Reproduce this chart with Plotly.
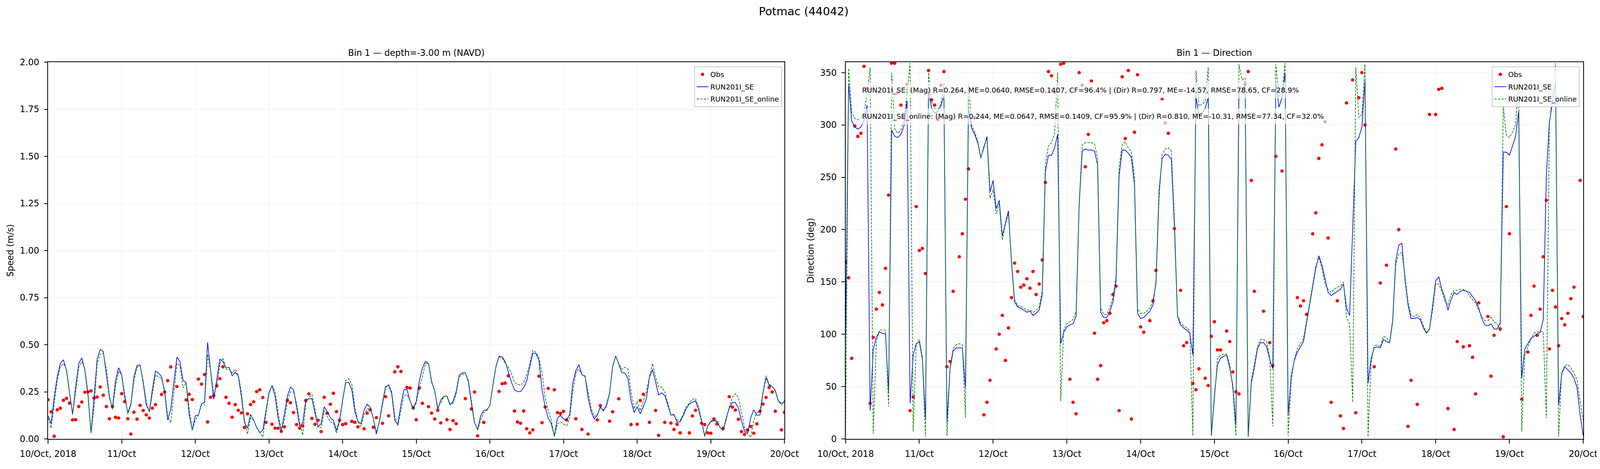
import pandas as pd
import plotly.graph_objects as go

# hourly time stamps, 10/Oct 00:00 .. 20/Oct 00:00
times = pd.date_range('2018-10-10 00:00', periods=241, freq='h')

tick_vals = pd.date_range('2018-10-10', '2018-10-20', freq='D')
tick_text = ['10/Oct, 2018', '11/Oct', '12/Oct', '13/Oct', '14/Oct', '15/Oct',
             '16/Oct', '17/Oct', '18/Oct', '19/Oct', '20/Oct']

# ---- speed (m/s) ----
speed_obs = [
    0.208, 0.144, 0.014, 0.154, 0.163, 0.205, 0.215, 0.19, 0.101, 0.102, 0.172, 0.196,
    0.248, 0.25, 0.255, 0.217, 0.222, 0.276, 0.232, 0.172, 0.107, 0.172, 0.115, 0.111,
    0.24, 0.198, 0.107, 0.026, 0.142, 0.105, 0.178, 0.151, 0.128, 0.111, 0.163, 0.182,
    None, 0.236, 0.249, 0.309, 0.382, None, 0.278, None, None, 0.207, 0.237, 0.209,
    None, 0.318, 0.291, 0.342, 0.09, 0.221, 0.23, 0.282, 0.32, 0.383, 0.221, 0.189,
    0.115, 0.182, 0.152, 0.138, 0.061, 0.133, 0.182, 0.197, 0.251, 0.261, 0.22, 0.088,
    None, 0.078, 0.057, 0.056, 0.04, 0.064, 0.204, 0.192, 0.14, 0.076, 0.057, 0.069,
    0.204, 0.239, 0.109, 0.078, 0.099, 0.039, 0.221, 0.137, 0.184, 0.242, 0.145, 0.099,
    0.076, 0.081, None, 0.093, 0.088, 0.064, None, 0.054, 0.137, 0.154, 0.062, 0.113,
    None, 0.083, 0.224, 0.123, None, 0.356, 0.383, 0.358, None, 0.273, 0.27, 0.164,
    0.102, 0.27, 0.189, None, 0.171, 0.137, 0.106, 0.152, 0.085, None, 0.102, 0.05,
    0.097, 0.081, None, None, 0.214, None, 0.159, 0.249, 0.016, None, 0.088, None,
    None, None, None, 0.252, 0.293, 0.296, 0.335, None, 0.148, 0.09, 0.083, 0.148,
    0.054, 0.032, 0.048, None, 0.333, 0.086, 0.169, 0.268, None, 0.261, 0.14, 0.135,
    0.146, 0.101, None, None, 0.107, None, 0.05, None, 0.026, None, None, 0.101,
    0.177, None, None, 0.094, 0.144, None, 0.213, None, None, None, 0.076, None,
    0.078, 0.204, 0.237, None, 0.088, None, 0.151, 0.019, None, 0.088, None, 0.084,
    0.05, 0.077, 0.032, None, None, 0.032, 0.122, 0.152, None, 0.083, 0.076, 0.032,
    0.03, 0.106, 0.079, None, 0.056, None, 0.224, 0.169, 0.153, 0.104, 0.039, 0.024,
    0.047, 0.066, 0.03, 0.08, 0.147, 0.185, 0.22, 0.273, 0.249, 0.147, None, 0.048,
    0.141,
]

speed_se = [
    0.123, 0.081, 0.22, 0.33, 0.40, 0.42, 0.365, 0.247, 0.13, 0.275, 0.40, 0.43,
    0.365, 0.233, 0.033, 0.22, 0.423, 0.474, 0.465, 0.344, 0.22, 0.164, 0.31, 0.378,
    0.34, 0.22, 0.14, 0.185, 0.33, 0.39, 0.392, 0.30, 0.18, 0.147, 0.26, 0.36,
    0.35, 0.33, 0.25, 0.10, 0.157, 0.30, 0.434, 0.41, 0.31, 0.30, 0.13, 0.047,
    0.123, 0.126, 0.185, 0.195, 0.513, 0.358, 0.21, 0.316, 0.423, 0.41, 0.378, 0.38,
    0.334, 0.354, 0.334, 0.227, 0.088, 0.057, 0.13, 0.099, 0.061, 0.033, 0.047, 0.147,
    0.247, 0.282, 0.227, 0.109, 0.04, 0.13, 0.227, 0.275, 0.261, 0.171, 0.068, 0.085,
    0.206, 0.213, 0.213, 0.137, 0.064, 0.081, 0.171, 0.144, 0.113, 0.099, 0.044, 0.099,
    0.206, 0.299, 0.30, 0.261, 0.144, 0.092, 0.081, 0.154, 0.185, 0.168, 0.109, 0.026,
    0.095, 0.192, 0.278, 0.285, 0.24, 0.099, 0.075, 0.182, 0.261, 0.261, 0.199, 0.164,
    0.199, 0.309, 0.375, 0.412, 0.40, 0.302, 0.258, 0.157, 0.206, 0.227, 0.227, 0.18,
    0.199, 0.251, 0.337, 0.351, 0.351, 0.302, 0.185, 0.085, 0.05, 0.123, 0.151, 0.154,
    0.178, 0.289, 0.385, 0.438, 0.436, 0.41, 0.358, 0.302, 0.261, 0.251, 0.251, 0.271,
    0.309, 0.385, 0.456, 0.453, 0.416, 0.261, 0.171, 0.109, 0.081, 0.016, 0.109, 0.126,
    0.106, 0.099, 0.13, 0.296, 0.361, 0.394, 0.34, 0.334, 0.22, 0.144, 0.106, 0.126,
    0.171, 0.147, 0.182, 0.243, 0.385, 0.44, 0.396, 0.352, 0.35, 0.32, 0.202, 0.14,
    0.171, 0.133, 0.171, 0.213, 0.327, 0.368, 0.302, 0.233, 0.244, 0.23, 0.178, 0.126,
    0.13, 0.088, 0.092, 0.123, 0.161, 0.185, 0.195, 0.202, 0.157, 0.092, 0.016, 0.068,
    0.092, 0.097, 0.092, 0.061, 0.047, 0.109, 0.164, 0.193, 0.193, 0.164, 0.095, 0.04,
    0.03, 0.113, 0.154, 0.126, 0.126, 0.244, 0.325, 0.285, 0.278, 0.258, 0.202, 0.189,
    0.195,
]

speed_online = [
    0.11, 0.057, 0.19, 0.31, 0.385, 0.40, 0.37, 0.25, 0.13, 0.25, 0.38, 0.41,
    0.37, 0.25, 0.03, 0.17, 0.40, 0.45, 0.455, 0.37, 0.23, 0.155, 0.28, 0.36,
    0.34, 0.24, 0.13, 0.18, 0.31, 0.38, 0.39, 0.31, 0.2, 0.14, 0.24, 0.34,
    0.33, 0.32, 0.26, 0.12, 0.085, 0.25, 0.40, 0.39, 0.27, 0.30, 0.16, 0.045,
    0.10, 0.125, 0.18, 0.18, 0.45, 0.36, 0.24, 0.28, 0.40, 0.43, 0.37, 0.37,
    0.35, 0.37, 0.34, 0.25, 0.10, 0.025, 0.11, 0.10, 0.06, 0.035, 0.01, 0.13,
    0.24, 0.285, 0.25, 0.14, 0.045, 0.10, 0.20, 0.25, 0.25, 0.19, 0.09, 0.02,
    0.19, 0.22, 0.235, 0.16, 0.06, 0.06, 0.15, 0.12, 0.09, 0.085, 0.03, 0.09,
    0.20, 0.31, 0.32, 0.29, 0.17, 0.09, 0.065, 0.13, 0.16, 0.16, 0.11, 0.035,
    0.09, 0.18, 0.27, 0.29, 0.25, 0.12, 0.07, 0.15, 0.23, 0.235, 0.2, 0.155,
    0.19, 0.27, 0.33, 0.40, 0.40, 0.31, 0.25, 0.17, 0.19, 0.225, 0.23, 0.185,
    0.19, 0.24, 0.33, 0.34, 0.35, 0.31, 0.2, 0.09, 0.045, 0.10, 0.14, 0.15,
    0.18, 0.29, 0.39, 0.435, 0.43, 0.40, 0.38, 0.35, 0.30, 0.29, 0.285, 0.30,
    0.34, 0.40, 0.47, 0.46, 0.43, 0.35, 0.22, 0.15, 0.10, 0.012, 0.08, 0.09,
    0.08, 0.07, 0.11, 0.25, 0.35, 0.37, 0.34, 0.33, 0.25, 0.16, 0.12, 0.13,
    0.165, 0.155, 0.17, 0.24, 0.38, 0.44, 0.40, 0.37, 0.38, 0.37, 0.25, 0.16,
    0.20, 0.15, 0.20, 0.25, 0.33, 0.40, 0.33, 0.275, 0.275, 0.25, 0.19, 0.13,
    0.125, 0.10, 0.10, 0.13, 0.17, 0.19, 0.21, 0.215, 0.17, 0.10, 0.012, 0.07,
    0.095, 0.10, 0.10, 0.06, 0.045, 0.10, 0.17, 0.22, 0.24, 0.22, 0.14, 0.06,
    0.025, 0.008, 0.10, 0.14, 0.145, 0.25, 0.335, 0.29, 0.28, 0.255, 0.2, 0.18,
    0.205,
]

# ---- direction (deg) ----
dir_obs = [
    169, 154, 77, 299, 289, 292, 356, 335, 34, 97, 124, 140,
    128, 163, 233, 359, 359, 331, 319, 307, 339, 27, 40, 222,
    180, 182, 158, 352, 324, 319, 305, 338, 351, 69, 74, 141,
    None, 174, 196, 229, 258, None, 307, None, None, 23, 35, 56,
    None, 86, 100, 118, 75, 106, 135, 168, 160, 145, 147, 153,
    144, 160, 138, 148, 171, 245, 351, 347, 331, None, 358, 359,
    None, 57, 35, 24, 350, 338, 260, 291, 342, 101, 57, 70,
    111, 113, 120, 138, 146, 27, 346, 287, 352, 19, 293, 348,
    107, 102, None, 113, 132, 161, None, 325, 302, 292, None, 201,
    None, 142, 89, 92, None, 53, 47, 67, None, 58, 51, 98,
    112, 85, 85, None, 103, 93, 64, 45, 43, None, 339, 351,
    247, 141, None, None, 122, None, 92, 70, 270, None, 256, None,
    None, None, None, 135, 127, 132, 119, None, 196, 216, 268, 281,
    303, 192, 35, None, 132, 22, 10, 321, None, 343, 25, 326,
    350, 300, None, None, 69, None, 149, None, 166, None, None, 277,
    200, None, None, 12, 56, None, 33, None, None, None, 310, None,
    310, 334, 335, None, 29, None, 9, 93, None, 88, None, 89,
    78, 43, 130, None, None, 117, 60, 99, None, 105, 2, 222,
    196, None, None, None, 38, None, 83, 118, 146, 99, 124, 174,
    228, 86, 142, 126, 89, 115, 109, 120, 134, 145, None, 247,
    117,
]

dir_se = [
    100, 339, 304, 298, 296, 298, 304, 319, 27, 85, 97, 102,
    101, 100, 45, 295, 289, 288, 291, 299, 323, 34, 80, 91,
    93, 76, 19, 332, 316, 311, 313, 318, 328, 17, 67, 84,
    87, 87, 87, 49, 316, 297, 291, 283, 269, 278, 289, 236,
    247, 220, 228, 194, 206, 218, 168, 131, 126, 125, 123, 121,
    122, 118, 120, 123, 138, 255, 271, 271, 278, 291, 91, 102,
    107, 109, 110, 117, 223, 275, 277, 276, 276, 275, 262, 121,
    116, 116, 122, 131, 151, 251, 276, 276, 273, 269, 243, 120,
    115, 116, 119, 122, 128, 150, 237, 268, 272, 271, 267, 203,
    117, 109, 106, 104, 101, 80, 327, 309, 311, 316, 326, 3,
    41, 71, 77, 79, 80, 68, 51, 13, 331, 332, 338, 2,
    53, 68, 86, 92, 92, 88, 76, 67, 341, 317, 326, 350,
    23, 60, 75, 83, 88, 93, 111, 128, 146, 163, 175, 166,
    153, 140, 137, 139, 141, 143, 148, 125, 118, 203, 284, 288,
    298, 342, 53, 77, 87, 88, 87, 95, 93, 92, 113, 170,
    185, 187, 153, 128, 115, 115, 116, 114, 106, 101, 105, 127,
    151, 155, 143, 135, 123, 133, 140, 138, 141, 142, 141, 140,
    136, 132, 125, 115, 109, 108, 110, 105, 105, 111, 274, 274,
    271, 280, 289, 313, 58, 86, 91, 96, 98, 100, 102, 114,
    251, 303, 321, 341, 32, 62, 69, 66, 63, 58, 49, 23,
    3,
]

dir_online = [
    5, 354, 312, 306, 305, 306, 312, 330, 355, 5, 92, 104,
    104, 104, 31, 350, 296, 292, 295, 305, 330, 359, 7, 90,
    95, 78, 2, 350, 322, 316, 315, 320, 340, 3, 69, 86,
    90, 91, 90, 20, 340, 300, 293, 285, 268, 280, 287, 230,
    238, 215, 225, 190, 205, 215, 170, 133, 127, 127, 125, 123,
    123, 121, 123, 126, 142, 262, 280, 283, 292, 350, 36, 104,
    110, 112, 114, 122, 225, 281, 283, 283, 283, 282, 268, 125,
    119, 119, 126, 135, 155, 260, 281, 284, 278, 274, 250, 124,
    120, 120, 122, 125, 132, 148, 230, 272, 277, 278, 275, 210,
    118, 111, 108, 106, 103, 3, 352, 318, 320, 322, 355, 3,
    38, 76, 80, 81, 81, 71, 48, 3, 358, 343, 345, 2,
    56, 71, 88, 95, 95, 93, 78, 12, 358, 327, 331, 359,
    3, 56, 76, 86, 91, 96, 113, 130, 148, 165, 173, 163,
    148, 143, 140, 143, 145, 146, 150, 116, 110, 35, 355, 307,
    310, 358, 2, 73, 89, 90, 88, 98, 97, 91, 111, 166,
    177, 178, 156, 131, 118, 117, 119, 116, 108, 102, 105, 123,
    148, 148, 141, 131, 128, 138, 142, 142, 143, 143, 141, 137,
    133, 130, 123, 117, 113, 113, 116, 112, 110, 103, 318, 290,
    288, 293, 300, 340, 7, 80, 88, 95, 101, 102, 103, 102,
    20, 300, 330, 359, 2, 63, 70, 71, 68, 63, 56, 36,
    18,
]

stats_se = ('RUN201I_SE: (Mag) R=0.264, ME=0.0640, RMSE=0.1407, CF=96.4% | '
            '(Dir) R=0.797, ME=-14.57, RMSE=78.65, CF=28.9%')
stats_online = ('RUN201I_SE_online: (Mag) R=0.244, ME=0.0647, RMSE=0.1409, CF=95.9% | '
                '(Dir) R=0.810, ME=-10.31, RMSE=77.34, CF=32.0%')

FONT = 'DejaVu Sans'

# The browser shows the page at ~1.215 device px per css px and the photo is
# 5000 device px wide by ~1200 css px tall, so horizontal sizes are divided by
# 1.215 while vertical ones stay as in the reference (both minus the 8px margin).
D = 1.215


def hx(v):
    return v / D


def fx(v):
    return v / D - 8


def fy(v):
    return v - 8


fig = go.Figure()


def add_panel(obs, se, online, xa, ya, legend):
    fig.add_trace(go.Scatter(
        x=times[:len(obs)], y=obs, mode='markers', name='Obs', legendgroup='a',
        marker=dict(color='red', size=hx(10.5)), xaxis=xa, yaxis=ya, legend=legend))
    fig.add_trace(go.Scatter(
        x=times[:len(se)], y=se, mode='lines', name='RUN201I_SE', legendgroup='b',
        line=dict(color='blue', width=1.7), xaxis=xa, yaxis=ya, legend=legend))
    fig.add_trace(go.Scatter(
        x=times[:len(online)], y=online, mode='lines', name='RUN201I_SE_online',
        legendgroup='c', line=dict(color='green', width=1.7, dash='6px,3px'),
        xaxis=xa, yaxis=ya, legend=legend))


add_panel(speed_obs, speed_se, speed_online, 'x', 'y', 'legend')
add_panel(dir_obs, dir_se, dir_online, 'x2', 'y2', 'legend2')

axis_common = dict(
    showgrid=True, gridcolor='#ebebeb', gridwidth=1.4, zeroline=False,
    showline=True, linecolor='black', linewidth=2, mirror=True,
    ticks='outside', tickwidth=2, tickcolor='black',
    tickfont=dict(size=hx(27), color='black'),
)
x_common = dict(
    type='date', range=[tick_vals[0], tick_vals[-1]],
    tickmode='array', tickvals=tick_vals, ticktext=tick_text,
    ticklen=10, ticklabelstandoff=7, **axis_common,
)
y_common = dict(ticklen=hx(10), ticklabelstandoff=8, **axis_common)
legend_common = dict(
    font=dict(size=hx(22), color='black'), bgcolor='rgba(255,255,255,0.8)',
    bordercolor='#cccccc', borderwidth=2, xanchor='right', yanchor='top',
    y=0.9886, traceorder='grouped', tracegroupgap=5,
)

W, H = 4099, 1184
left, right, top, bottom = fx(150), fx(4924), fy(159), fy(1122.7)
fig.update_layout(
    width=W, height=H,
    margin=dict(l=left, r=W - right, t=top, b=H - bottom),
    paper_bgcolor='white', plot_bgcolor='white',
    font=dict(family=FONT, color='black'),
    title=dict(text='Potmac (44042)', x=fx(2500) / W, xref='container', xanchor='center',
               y=1 - fy(29) / H, yref='container', yanchor='middle',
               font=dict(size=hx(35), color='black')),
    xaxis=dict(domain=[0, 0.4797], anchor='y', **x_common),
    xaxis2=dict(domain=[0.5195, 1], anchor='y2', **x_common),
    yaxis=dict(anchor='x', range=[0, 2], dtick=0.25, tickformat='.2f',
               title=dict(text='Speed (m/s)', font=dict(size=hx(27)), standoff=hx(12)),
               **y_common),
    yaxis2=dict(anchor='x2', range=[0, 360], dtick=50,
                title=dict(text='Direction (deg)', font=dict(size=hx(27)), standoff=hx(12)),
                **y_common),
    legend=dict(x=0.478, **legend_common),
    legend2=dict(x=0.9977, **legend_common),
    showlegend=True,
)

# subplot titles
for txt, xr, yr in [('Bin 1 — depth=-3.00 m (NAVD)', 'x domain', 'y domain'),
                    ('Bin 1 — Direction', 'x2 domain', 'y2 domain')]:
    fig.add_annotation(text=txt, xref=xr, yref=yr, x=0.5, y=1, yanchor='middle',
                       yshift=24, showarrow=False,
                       font=dict(size=hx(27), color='black'))

# skill scores in semi transparent boxes
for txt, yy in [(stats_se, 0.9253), (stats_online, 0.8553)]:
    fig.add_annotation(text=txt, xref='x2 domain', yref='y2 domain',
                       x=0.0174, y=yy, xanchor='left', yanchor='middle',
                       showarrow=False, bgcolor='rgba(255,255,255,0.65)',
                       borderpad=9, font=dict(size=hx(22), color='black'))

fig.write_html('out.html')
